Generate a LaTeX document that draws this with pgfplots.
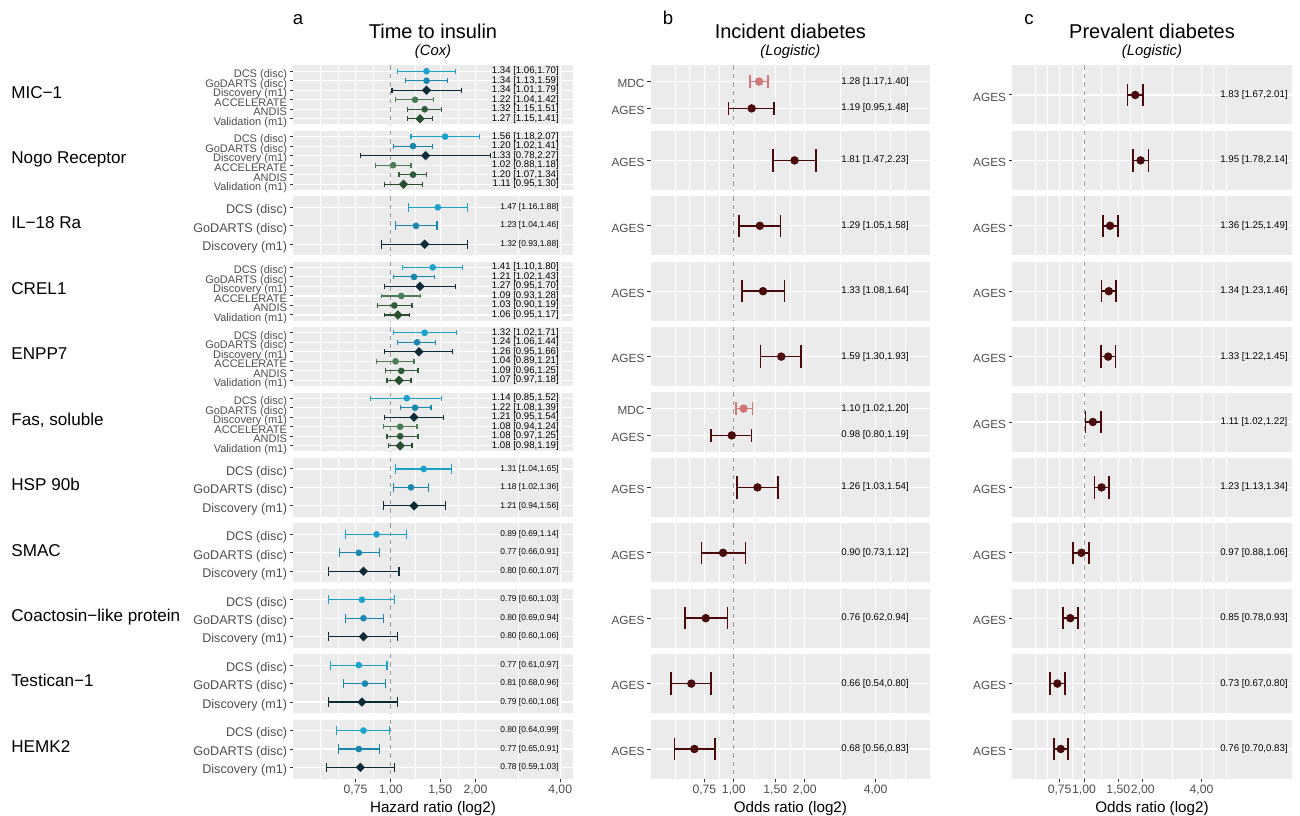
\documentclass[border=0pt]{standalone}
\usepackage{fontspec}
\setmainfont{Liberation Sans}
\usepackage{pgfplots}
\pgfplotsset{compat=1.18}

\definecolor{bg}{HTML}{EBEBEB}
\definecolor{tl}{HTML}{4D4D4D}
\definecolor{tk}{HTML}{333333}
\definecolor{cDCS}{HTML}{1CA3CB}
\definecolor{cGoD}{HTML}{1987AE}
\definecolor{cDis}{HTML}{0D2C37}
\definecolor{cACC}{HTML}{4B7D54}
\definecolor{cAND}{HTML}{2F5B38}
\definecolor{cVal}{HTML}{284E2E}
\definecolor{cMDC}{HTML}{D27777}
\definecolor{cAGE}{HTML}{4A0A0C}
\definecolor{refl}{HTML}{9A9A9A}

\newcommand{\fs}[1]{\fontsize{#1}{#1}\selectfont}

\pgfplotsset{
   scale only axis, width=139.75pt, height=29.5pt,
   y dir=reverse, ymin=0.4,
   axis background/.style={fill=bg},
   axis line style={draw=none},
   xtick={0.75,1,1.5,2,4},
   minor xtick={0.5625,0.6495,0.8660,1.2247,1.7321,2.8284,4.6188,5.3333},
   xmajorgrids, xminorgrids, ymajorgrids,
   major grid style={white, line width=0.55pt},
   minor grid style={white, line width=0.28pt},
   extra x ticks={1}, extra x tick labels={},
   extra x tick style={major grid style={refl, dash pattern=on 2.2pt off 2pt, line width=0.45pt}, major tick length=0pt},
   tick align=outside, tick pos=left,
   major tick length=1.75pt, minor tick length=0pt,
   tick style={tk, line width=0.5pt},
   xtick style={draw=none},
   xticklabels={},
   yticklabel style={text=tl, inner sep=1.2pt, text height=1.5ex, text depth=0.3ex},
   clip=false,
}

% panel a item: #1 cap half-size, #2 text font size, #3 colour, #4 mark (* or square*), #5 y, #6 est, #7 lo, #8 hi
\newcommand{\ia}[8]{%
 \addplot[#3, line width=0.55pt, mark=|, mark size=#1, mark options={solid, line width=0.55pt}] coordinates {(#7,#5) (#8,#5)};
 \addplot[#3, only marks, mark=#4, mark size=1.45pt, mark options={rotate=45}] coordinates {(#6,#5)};
 \node[font=\fs{#2}, anchor=east, inner sep=0pt] at (axis cs:3.965,#5) {#6 [#7,#8]};
}
\newcommand{\iaS}[6]{\ia{1.2pt}{4.8}{#1}{#2}{#3}{#4}{#5}{#6}}
\newcommand{\iaT}[6]{\ia{2.3pt}{4.2}{#1}{#2}{#3}{#4}{#5}{#6}}
% panel b/c item: #1 cap half-size, #2 text x, #3 colour, #4 y, #5 est, #6 lo, #7 hi
\newcommand{\ib}[7]{%
 \addplot[#3, line width=0.8pt, mark=|, mark size=#1, mark options={solid, line width=0.8pt}] coordinates {(#6,#4) (#7,#4)};
 \addplot[#3, only marks, mark=*, mark size=1.9pt] coordinates {(#5,#4)};
 \node[font=\fs{4.85}, anchor=center, inner sep=0pt] at (axis cs:#2,#4) {#5 [#6,#7]};
}

\begin{document}
\begin{tikzpicture}
\path[use as bounding box] (0,0) rectangle (650pt,407.5pt);

% ---------- titles ----------
\node[font=\fs{9.3}, anchor=base] at (149pt,395pt) {a};
\node[font=\fs{9.3}, anchor=base] at (334pt,395pt) {b};
\node[font=\fs{9.3}, anchor=base] at (514.5pt,395pt) {c};
\node[font=\fs{10}, anchor=base] at (216.5pt,388.35pt) {Time to insulin};
\node[font=\fs{7.4}\itshape, anchor=base] at (216.5pt,379.5pt) {(Cox)};
\node[font=\fs{10}, anchor=base] at (395.2pt,388.35pt) {Incident diabetes};
\node[font=\fs{7.4}\itshape, anchor=base] at (395.2pt,379.5pt) {(Logistic)};
\node[font=\fs{10}, anchor=base] at (576pt,388.35pt) {Prevalent diabetes};
\node[font=\fs{7.4}\itshape, anchor=base] at (576pt,379.5pt) {(Logistic)};
\node[font=\fs{7.6}, anchor=base] at (216.5pt,1.5pt) {Hazard ratio (log2)};
\node[font=\fs{7.6}, anchor=base] at (395.2pt,1.5pt) {Odds ratio (log2)};
\node[font=\fs{7.6}, anchor=base] at (576pt,1.5pt) {Odds ratio (log2)};

% ---------- row labels ----------
\node[anchor=west, font=\fs{8.55}, inner sep=0pt, text height=0.72em, text depth=0.2em] at (5.5pt,361.0pt) {MIC−1};
\node[anchor=west, font=\fs{8.55}, inner sep=0pt, text height=0.72em, text depth=0.2em] at (5.5pt,328.3pt) {Nogo Receptor};
\node[anchor=west, font=\fs{8.55}, inner sep=0pt, text height=0.72em, text depth=0.2em] at (5.5pt,295.6pt) {IL−18 Ra};
\node[anchor=west, font=\fs{8.55}, inner sep=0pt, text height=0.72em, text depth=0.2em] at (5.5pt,262.9pt) {CREL1};
\node[anchor=west, font=\fs{8.55}, inner sep=0pt, text height=0.72em, text depth=0.2em] at (5.5pt,230.2pt) {ENPP7};
\node[anchor=west, font=\fs{8.55}, inner sep=0pt, text height=0.72em, text depth=0.2em] at (5.5pt,197.5pt) {Fas, soluble};
\node[anchor=west, font=\fs{8.55}, inner sep=0pt, text height=0.72em, text depth=0.2em] at (5.5pt,164.8pt) {HSP 90b};
\node[anchor=west, font=\fs{8.55}, inner sep=0pt, text height=0.72em, text depth=0.2em] at (5.5pt,132.1pt) {SMAC};
\node[anchor=west, font=\fs{8.55}, inner sep=0pt, text height=0.72em, text depth=0.2em] at (5.5pt,99.4pt) {Coactosin−like protein};
\node[anchor=west, font=\fs{8.55}, inner sep=0pt, text height=0.72em, text depth=0.2em] at (5.5pt,66.7pt) {Testican−1};
\node[anchor=west, font=\fs{8.55}, inner sep=0pt, text height=0.72em, text depth=0.2em] at (5.5pt,34.0pt) {HEMK2};

% =================== PANEL A ===================
\begin{axis}[xmode=log,xmin=0.4506,xmax=4.435,ymax=6.6,ytick={1,2,3,4,5,6},yticklabels={DCS (disc),GoDARTS (disc),Discovery (m1),ACCELERATE,ANDIS,Validation (m1)},yticklabel style={font=\fs{5.5}},at={(146.65pt,345.25pt)},anchor=south west]
\iaS{cDCS}{*}{1}{1.34}{1.06}{1.70}
\iaS{cGoD}{*}{2}{1.34}{1.13}{1.59}
\iaS{cDis}{square*}{3}{1.34}{1.01}{1.79}
\iaS{cACC}{*}{4}{1.22}{1.04}{1.42}
\iaS{cAND}{*}{5}{1.32}{1.15}{1.51}
\iaS{cVal}{square*}{6}{1.27}{1.15}{1.41}
\end{axis}
\begin{axis}[xmode=log,xmin=0.4506,xmax=4.435,ymax=6.6,ytick={1,2,3,4,5,6},yticklabels={DCS (disc),GoDARTS (disc),Discovery (m1),ACCELERATE,ANDIS,Validation (m1)},yticklabel style={font=\fs{5.5}},at={(146.65pt,312.55pt)},anchor=south west]
\iaS{cDCS}{*}{1}{1.56}{1.18}{2.07}
\iaS{cGoD}{*}{2}{1.20}{1.02}{1.41}
\iaS{cDis}{square*}{3}{1.33}{0.78}{2.27}
\iaS{cACC}{*}{4}{1.02}{0.88}{1.18}
\iaS{cAND}{*}{5}{1.20}{1.07}{1.34}
\iaS{cVal}{square*}{6}{1.11}{0.95}{1.30}
\end{axis}
\begin{axis}[xmode=log,xmin=0.4506,xmax=4.435,ymax=3.6,ytick={1,2,3},yticklabels={DCS (disc),GoDARTS (disc),Discovery (m1)},yticklabel style={font=\fs{6.3}},at={(146.65pt,279.85pt)},anchor=south west]
\iaT{cDCS}{*}{1}{1.47}{1.16}{1.88}
\iaT{cGoD}{*}{2}{1.23}{1.04}{1.46}
\iaT{cDis}{square*}{3}{1.32}{0.93}{1.88}
\end{axis}
\begin{axis}[xmode=log,xmin=0.4506,xmax=4.435,ymax=6.6,ytick={1,2,3,4,5,6},yticklabels={DCS (disc),GoDARTS (disc),Discovery (m1),ACCELERATE,ANDIS,Validation (m1)},yticklabel style={font=\fs{5.5}},at={(146.65pt,247.15pt)},anchor=south west]
\iaS{cDCS}{*}{1}{1.41}{1.10}{1.80}
\iaS{cGoD}{*}{2}{1.21}{1.02}{1.43}
\iaS{cDis}{square*}{3}{1.27}{0.95}{1.70}
\iaS{cACC}{*}{4}{1.09}{0.93}{1.28}
\iaS{cAND}{*}{5}{1.03}{0.90}{1.19}
\iaS{cVal}{square*}{6}{1.06}{0.95}{1.17}
\end{axis}
\begin{axis}[xmode=log,xmin=0.4506,xmax=4.435,ymax=6.6,ytick={1,2,3,4,5,6},yticklabels={DCS (disc),GoDARTS (disc),Discovery (m1),ACCELERATE,ANDIS,Validation (m1)},yticklabel style={font=\fs{5.5}},at={(146.65pt,214.45pt)},anchor=south west]
\iaS{cDCS}{*}{1}{1.32}{1.02}{1.71}
\iaS{cGoD}{*}{2}{1.24}{1.06}{1.44}
\iaS{cDis}{square*}{3}{1.26}{0.95}{1.66}
\iaS{cACC}{*}{4}{1.04}{0.89}{1.21}
\iaS{cAND}{*}{5}{1.09}{0.96}{1.25}
\iaS{cVal}{square*}{6}{1.07}{0.97}{1.18}
\end{axis}
\begin{axis}[xmode=log,xmin=0.4506,xmax=4.435,ymax=6.6,ytick={1,2,3,4,5,6},yticklabels={DCS (disc),GoDARTS (disc),Discovery (m1),ACCELERATE,ANDIS,Validation (m1)},yticklabel style={font=\fs{5.5}},at={(146.65pt,181.75pt)},anchor=south west]
\iaS{cDCS}{*}{1}{1.14}{0.85}{1.52}
\iaS{cGoD}{*}{2}{1.22}{1.08}{1.39}
\iaS{cDis}{square*}{3}{1.21}{0.95}{1.54}
\iaS{cACC}{*}{4}{1.08}{0.94}{1.24}
\iaS{cAND}{*}{5}{1.08}{0.97}{1.25}
\iaS{cVal}{square*}{6}{1.08}{0.98}{1.19}
\end{axis}
\begin{axis}[xmode=log,xmin=0.4506,xmax=4.435,ymax=3.6,ytick={1,2,3},yticklabels={DCS (disc),GoDARTS (disc),Discovery (m1)},yticklabel style={font=\fs{6.3}},at={(146.65pt,149.05pt)},anchor=south west]
\iaT{cDCS}{*}{1}{1.31}{1.04}{1.65}
\iaT{cGoD}{*}{2}{1.18}{1.02}{1.36}
\iaT{cDis}{square*}{3}{1.21}{0.94}{1.56}
\end{axis}
\begin{axis}[xmode=log,xmin=0.4506,xmax=4.435,ymax=3.6,ytick={1,2,3},yticklabels={DCS (disc),GoDARTS (disc),Discovery (m1)},yticklabel style={font=\fs{6.3}},at={(146.65pt,116.35pt)},anchor=south west]
\iaT{cDCS}{*}{1}{0.89}{0.69}{1.14}
\iaT{cGoD}{*}{2}{0.77}{0.66}{0.91}
\iaT{cDis}{square*}{3}{0.80}{0.60}{1.07}
\end{axis}
\begin{axis}[xmode=log,xmin=0.4506,xmax=4.435,ymax=3.6,ytick={1,2,3},yticklabels={DCS (disc),GoDARTS (disc),Discovery (m1)},yticklabel style={font=\fs{6.3}},at={(146.65pt,83.65pt)},anchor=south west]
\iaT{cDCS}{*}{1}{0.79}{0.60}{1.03}
\iaT{cGoD}{*}{2}{0.80}{0.69}{0.94}
\iaT{cDis}{square*}{3}{0.80}{0.60}{1.06}
\end{axis}
\begin{axis}[xmode=log,xmin=0.4506,xmax=4.435,ymax=3.6,ytick={1,2,3},yticklabels={DCS (disc),GoDARTS (disc),Discovery (m1)},yticklabel style={font=\fs{6.3}},at={(146.65pt,50.95pt)},anchor=south west]
\iaT{cDCS}{*}{1}{0.77}{0.61}{0.97}
\iaT{cGoD}{*}{2}{0.81}{0.68}{0.96}
\iaT{cDis}{square*}{3}{0.79}{0.60}{1.06}
\end{axis}
\begin{axis}[xmode=log,xmin=0.4506,xmax=4.435,ymax=3.6,ytick={1,2,3},yticklabels={DCS (disc),GoDARTS (disc),Discovery (m1)},yticklabel style={font=\fs{6.3}},at={(146.65pt,18.25pt)},anchor=south west,
  xtick style={draw=tk}, xticklabels={{0,75},{1,00},{1,50},{2,00},{4,00}}, xticklabel style={text=tl, font=\fs{6.1}, inner sep=1.5pt}]
\iaT{cDCS}{*}{1}{0.80}{0.64}{0.99}
\iaT{cGoD}{*}{2}{0.77}{0.65}{0.91}
\iaT{cDis}{square*}{3}{0.78}{0.59}{1.03}
\end{axis}

% =================== PANEL B ===================
\begin{axis}[xmode=log,xmin=0.4436,xmax=6.82,ymax=2.6,ytick={1,2},yticklabels={MDC,AGES},yticklabel style={font=\fs{5.9}},at={(325.35pt,345.25pt)},anchor=south west]
\ib{3.1pt}{3.98}{cMDC}{1}{1.28}{1.17}{1.40}
\ib{3.1pt}{3.98}{cAGE}{2}{1.19}{0.95}{1.48}
\end{axis}
\begin{axis}[xmode=log,xmin=0.4436,xmax=6.82,ymax=1.6,ytick={1},yticklabels={AGES},yticklabel style={font=\fs{5.9}},at={(325.35pt,312.55pt)},anchor=south west]
\ib{5.6pt}{3.98}{cAGE}{1}{1.81}{1.47}{2.23}
\end{axis}
\begin{axis}[xmode=log,xmin=0.4436,xmax=6.82,ymax=1.6,ytick={1},yticklabels={AGES},yticklabel style={font=\fs{5.9}},at={(325.35pt,279.85pt)},anchor=south west]
\ib{5.6pt}{3.98}{cAGE}{1}{1.29}{1.05}{1.58}
\end{axis}
\begin{axis}[xmode=log,xmin=0.4436,xmax=6.82,ymax=1.6,ytick={1},yticklabels={AGES},yticklabel style={font=\fs{5.9}},at={(325.35pt,247.15pt)},anchor=south west]
\ib{5.6pt}{3.98}{cAGE}{1}{1.33}{1.08}{1.64}
\end{axis}
\begin{axis}[xmode=log,xmin=0.4436,xmax=6.82,ymax=1.6,ytick={1},yticklabels={AGES},yticklabel style={font=\fs{5.9}},at={(325.35pt,214.45pt)},anchor=south west]
\ib{5.6pt}{3.98}{cAGE}{1}{1.59}{1.30}{1.93}
\end{axis}
\begin{axis}[xmode=log,xmin=0.4436,xmax=6.82,ymax=2.6,ytick={1,2},yticklabels={MDC,AGES},yticklabel style={font=\fs{5.9}},at={(325.35pt,181.75pt)},anchor=south west]
\ib{3.1pt}{3.98}{cMDC}{1}{1.10}{1.02}{1.20}
\ib{3.1pt}{3.98}{cAGE}{2}{0.98}{0.80}{1.19}
\end{axis}
\begin{axis}[xmode=log,xmin=0.4436,xmax=6.82,ymax=1.6,ytick={1},yticklabels={AGES},yticklabel style={font=\fs{5.9}},at={(325.35pt,149.05pt)},anchor=south west]
\ib{5.6pt}{3.98}{cAGE}{1}{1.26}{1.03}{1.54}
\end{axis}
\begin{axis}[xmode=log,xmin=0.4436,xmax=6.82,ymax=1.6,ytick={1},yticklabels={AGES},yticklabel style={font=\fs{5.9}},at={(325.35pt,116.35pt)},anchor=south west]
\ib{5.6pt}{3.98}{cAGE}{1}{0.90}{0.73}{1.12}
\end{axis}
\begin{axis}[xmode=log,xmin=0.4436,xmax=6.82,ymax=1.6,ytick={1},yticklabels={AGES},yticklabel style={font=\fs{5.9}},at={(325.35pt,83.65pt)},anchor=south west]
\ib{5.6pt}{3.98}{cAGE}{1}{0.76}{0.62}{0.94}
\end{axis}
\begin{axis}[xmode=log,xmin=0.4436,xmax=6.82,ymax=1.6,ytick={1},yticklabels={AGES},yticklabel style={font=\fs{5.9}},at={(325.35pt,50.95pt)},anchor=south west]
\ib{5.6pt}{3.98}{cAGE}{1}{0.66}{0.54}{0.80}
\end{axis}
\begin{axis}[xmode=log,xmin=0.4436,xmax=6.82,ymax=1.6,ytick={1},yticklabels={AGES},yticklabel style={font=\fs{5.9}},at={(325.35pt,18.25pt)},anchor=south west,
  xtick style={draw=tk}, xticklabels={{0,75},{1,00},{1,50},{2,00},{4,00}}, xticklabel style={text=tl, font=\fs{6.1}, inner sep=1.5pt}]
\ib{5.6pt}{3.98}{cAGE}{1}{0.68}{0.56}{0.83}
\end{axis}

% =================== PANEL C ===================
\begin{axis}[xmode=log,xmin=0.4290,xmax=11.62,ymax=1.6,ytick={1},yticklabels={AGES},yticklabel style={font=\fs{5.9}},at={(506.15pt,345.25pt)},anchor=south west]
\ib{5.6pt}{7.44}{cAGE}{1}{1.83}{1.67}{2.01}
\end{axis}
\begin{axis}[xmode=log,xmin=0.4290,xmax=11.62,ymax=1.6,ytick={1},yticklabels={AGES},yticklabel style={font=\fs{5.9}},at={(506.15pt,312.55pt)},anchor=south west]
\ib{5.6pt}{7.44}{cAGE}{1}{1.95}{1.78}{2.14}
\end{axis}
\begin{axis}[xmode=log,xmin=0.4290,xmax=11.62,ymax=1.6,ytick={1},yticklabels={AGES},yticklabel style={font=\fs{5.9}},at={(506.15pt,279.85pt)},anchor=south west]
\ib{5.6pt}{7.44}{cAGE}{1}{1.36}{1.25}{1.49}
\end{axis}
\begin{axis}[xmode=log,xmin=0.4290,xmax=11.62,ymax=1.6,ytick={1},yticklabels={AGES},yticklabel style={font=\fs{5.9}},at={(506.15pt,247.15pt)},anchor=south west]
\ib{5.6pt}{7.44}{cAGE}{1}{1.34}{1.23}{1.46}
\end{axis}
\begin{axis}[xmode=log,xmin=0.4290,xmax=11.62,ymax=1.6,ytick={1},yticklabels={AGES},yticklabel style={font=\fs{5.9}},at={(506.15pt,214.45pt)},anchor=south west]
\ib{5.6pt}{7.44}{cAGE}{1}{1.33}{1.22}{1.45}
\end{axis}
\begin{axis}[xmode=log,xmin=0.4290,xmax=11.62,ymax=1.6,ytick={1},yticklabels={AGES},yticklabel style={font=\fs{5.9}},at={(506.15pt,181.75pt)},anchor=south west]
\ib{5.6pt}{7.44}{cAGE}{1}{1.11}{1.02}{1.22}
\end{axis}
\begin{axis}[xmode=log,xmin=0.4290,xmax=11.62,ymax=1.6,ytick={1},yticklabels={AGES},yticklabel style={font=\fs{5.9}},at={(506.15pt,149.05pt)},anchor=south west]
\ib{5.6pt}{7.44}{cAGE}{1}{1.23}{1.13}{1.34}
\end{axis}
\begin{axis}[xmode=log,xmin=0.4290,xmax=11.62,ymax=1.6,ytick={1},yticklabels={AGES},yticklabel style={font=\fs{5.9}},at={(506.15pt,116.35pt)},anchor=south west]
\ib{5.6pt}{7.44}{cAGE}{1}{0.97}{0.88}{1.06}
\end{axis}
\begin{axis}[xmode=log,xmin=0.4290,xmax=11.62,ymax=1.6,ytick={1},yticklabels={AGES},yticklabel style={font=\fs{5.9}},at={(506.15pt,83.65pt)},anchor=south west]
\ib{5.6pt}{7.44}{cAGE}{1}{0.85}{0.78}{0.93}
\end{axis}
\begin{axis}[xmode=log,xmin=0.4290,xmax=11.62,ymax=1.6,ytick={1},yticklabels={AGES},yticklabel style={font=\fs{5.9}},at={(506.15pt,50.95pt)},anchor=south west]
\ib{5.6pt}{7.44}{cAGE}{1}{0.73}{0.67}{0.80}
\end{axis}
\begin{axis}[xmode=log,xmin=0.4290,xmax=11.62,ymax=1.6,ytick={1},yticklabels={AGES},yticklabel style={font=\fs{5.9}},at={(506.15pt,18.25pt)},anchor=south west,
  xtick style={draw=tk}, xticklabels={{0,75},{1,00},{1,50},{2,00},{4,00}}, xticklabel style={text=tl, font=\fs{6.1}, inner sep=1.5pt}]
\ib{5.6pt}{7.44}{cAGE}{1}{0.76}{0.70}{0.83}
\end{axis}

\end{tikzpicture}
\end{document}
